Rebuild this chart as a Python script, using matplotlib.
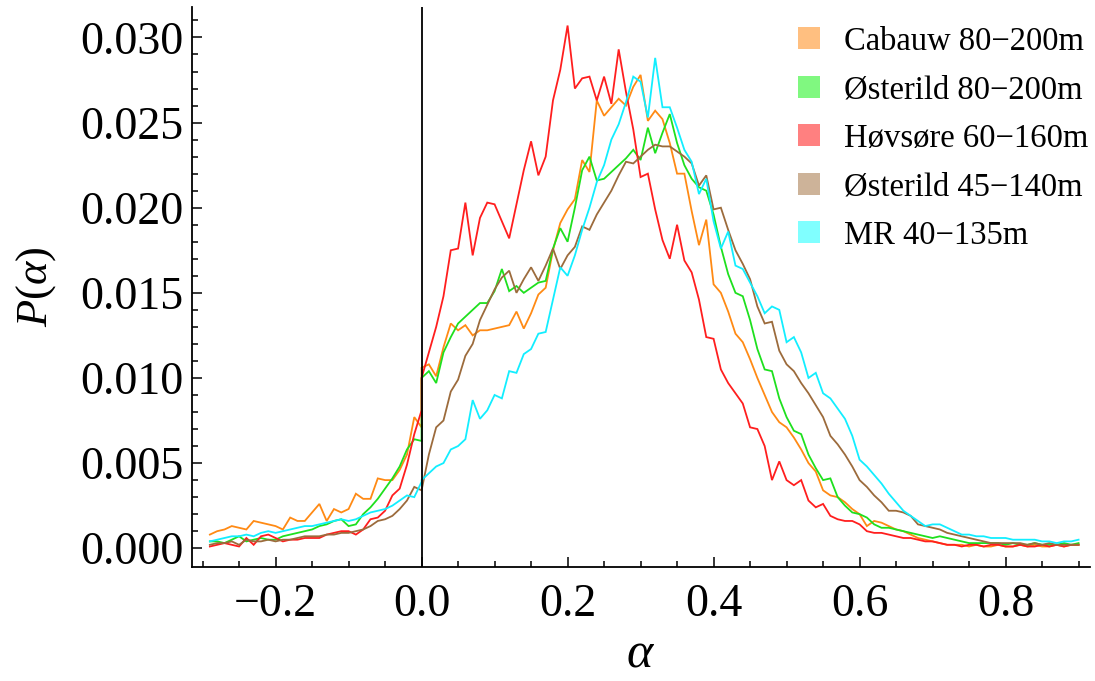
import numpy as np
import matplotlib
matplotlib.use("Agg")
import matplotlib.pyplot as plt
from matplotlib.lines import Line2D

# ---------------------------------------------------------------------------
# data: P(alpha) histograms, 0.01 bins; each series is split at alpha = 0
# ---------------------------------------------------------------------------
ALPHA_NEG = np.round(np.arange(-0.29, 0.001, 0.01), 2)   # -0.29 .. 0.00
ALPHA_POS = np.round(np.arange(0.0, 0.901, 0.01), 2)     #  0.00 .. 0.90

LABELS = ["Cabauw 80\u2212200m", "\u00d8sterild 80\u2212200m", "H\u00f8vs\u00f8re 60\u2212160m",
          "\u00d8sterild 45\u2212140m", "MR 40\u2212135m"]
LINE_COLORS = ["#FF8A14", "#1EE01E", "#FF1E1E", "#9C6B3C", "#12EEFF"]
SWATCH_COLORS = ["#FFBF80", "#80F880", "#FF8080", "#CDB399", "#80FFFF"]

cabauw_neg = [0.0008, 0.0010, 0.0011, 0.0013, 0.0012, 0.0011, 0.0016, 0.0015, 0.0014, 0.0013,
              0.0011, 0.0018, 0.0016, 0.0016, 0.0021, 0.0026, 0.0016, 0.0023, 0.0021, 0.0023,
              0.0032, 0.0029, 0.0029, 0.0041, 0.0040, 0.0040, 0.0046, 0.0055, 0.0077, 0.0071]
cabauw_pos = [0.0106, 0.0108, 0.0101, 0.0118, 0.0132, 0.0128, 0.0131, 0.0125, 0.0128, 0.0128,
              0.0129, 0.0130, 0.0131, 0.0139, 0.0129, 0.0138, 0.0149, 0.0153, 0.0175, 0.0191,
              0.0199, 0.0205, 0.0228, 0.0221, 0.0263, 0.0254, 0.0259, 0.0264, 0.0260, 0.0271,
              0.0278, 0.0251, 0.0257, 0.0252, 0.0238, 0.0220, 0.0220, 0.0198, 0.0178, 0.0193,
              0.0155, 0.0150, 0.0139, 0.0126, 0.0121, 0.0111, 0.0100, 0.0090, 0.0080, 0.0074,
              0.0071, 0.0065, 0.0058, 0.0050, 0.0045, 0.0034, 0.0031, 0.0030, 0.0027, 0.0023,
              0.0020, 0.0013, 0.0016, 0.0015, 0.0013, 0.0011, 0.0010, 0.0008, 0.0006, 0.0005,
              0.0004, 0.0003, 0.0002, 0.0002, 0.0002, 0.0001, 0.0002, 0.0001, 0.0001, 0.0002,
              0.0001, 0.0001, 0.0002, 0.0001, 0.0002, 0.0001, 0.0001, 0.0002, 0.0001, 0.0002, 0.0002]

oster80_neg = [0.0004, 0.0004, 0.0003, 0.0005, 0.0007, 0.0004, 0.0005, 0.0006, 0.0005, 0.0005,
               0.0007, 0.0008, 0.0009, 0.0010, 0.0011, 0.0013, 0.0014, 0.0016, 0.0017, 0.0013,
               0.0014, 0.0020, 0.0024, 0.0029, 0.0035, 0.0041, 0.0048, 0.0058, 0.0064, 0.0063]
oster80_pos = [0.0100, 0.0104, 0.0097, 0.0115, 0.0124, 0.0132, 0.0136, 0.0140, 0.0144, 0.0144,
               0.0151, 0.0164, 0.0151, 0.0154, 0.0150, 0.0153, 0.0156, 0.0157, 0.0176, 0.0188,
               0.0180, 0.0200, 0.0222, 0.0230, 0.0216, 0.0217, 0.0221, 0.0225, 0.0229, 0.0234,
               0.0228, 0.0247, 0.0232, 0.0244, 0.0255, 0.0238, 0.0225, 0.0217, 0.0212, 0.0210,
               0.0196, 0.0177, 0.0161, 0.0150, 0.0148, 0.0134, 0.0117, 0.0105, 0.0104, 0.0088,
               0.0077, 0.0069, 0.0067, 0.0055, 0.0047, 0.0040, 0.0041, 0.0030, 0.0025, 0.0021,
               0.0020, 0.0018, 0.0014, 0.0012, 0.0012, 0.0011, 0.0010, 0.0009, 0.0008, 0.0007,
               0.0006, 0.0007, 0.0006, 0.0005, 0.0004, 0.0003, 0.0003, 0.0003, 0.0003, 0.0003,
               0.0002, 0.0003, 0.0002, 0.0002, 0.0003, 0.0002, 0.0002, 0.0002, 0.0003, 0.0002, 0.0003]

hovsore_neg = [0.0001, 0.0002, 0.0003, 0.0002, 0.0001, 0.0006, 0.0002, 0.0007, 0.0008, 0.0006,
               0.0004, 0.0005, 0.0005, 0.0006, 0.0006, 0.0006, 0.0008, 0.0009, 0.0010, 0.0010,
               0.0008, 0.0011, 0.0017, 0.0018, 0.0022, 0.0031, 0.0035, 0.0049, 0.0067, 0.0081]
hovsore_pos = [0.0100, 0.0115, 0.0130, 0.0148, 0.0175, 0.0176, 0.0203, 0.0172, 0.0194, 0.0203,
               0.0202, 0.0192, 0.0182, 0.0202, 0.0222, 0.0239, 0.0219, 0.0230, 0.0263, 0.0281,
               0.0307, 0.0270, 0.0276, 0.0277, 0.0263, 0.0277, 0.0261, 0.0293, 0.0268, 0.0246,
               0.0218, 0.0220, 0.0199, 0.0181, 0.0170, 0.0190, 0.0169, 0.0162, 0.0146, 0.0124,
               0.0123, 0.0105, 0.0097, 0.0091, 0.0085, 0.0071, 0.0070, 0.0060, 0.0040, 0.0051,
               0.0040, 0.0037, 0.0040, 0.0028, 0.0024, 0.0026, 0.0019, 0.0017, 0.0016, 0.0016,
               0.0014, 0.0010, 0.0009, 0.0009, 0.0008, 0.0007, 0.0006, 0.0006, 0.0005, 0.0004,
               0.0004, 0.0003, 0.0002, 0.0002, 0.0001, 0.0002, 0.0002, 0.0001, 0.0002, 0.0002,
               0.0001, 0.0001, 0.0002, 0.0001, 0.0001, 0.0002, 0.0001, 0.0002, 0.0001, 0.0002, 0.0002]

oster45_neg = [0.0002, 0.0003, 0.0003, 0.0004, 0.0002, 0.0005, 0.0004, 0.0004, 0.0005, 0.0004,
               0.0005, 0.0005, 0.0006, 0.0007, 0.0007, 0.0007, 0.0008, 0.0008, 0.0009, 0.0009,
               0.0010, 0.0011, 0.0013, 0.0016, 0.0017, 0.0019, 0.0023, 0.0028, 0.0036, 0.0034]
oster45_pos = [0.0034, 0.0055, 0.0071, 0.0075, 0.0092, 0.0099, 0.0113, 0.0120, 0.0134, 0.0143,
               0.0152, 0.0159, 0.0163, 0.0150, 0.0158, 0.0165, 0.0157, 0.0166, 0.0176, 0.0164,
               0.0172, 0.0177, 0.0189, 0.0187, 0.0196, 0.0203, 0.0210, 0.0219, 0.0227, 0.0226,
               0.0230, 0.0234, 0.0237, 0.0236, 0.0236, 0.0233, 0.0230, 0.0226, 0.0213, 0.0219,
               0.0199, 0.0200, 0.0187, 0.0175, 0.0167, 0.0158, 0.0142, 0.0132, 0.0133, 0.0116,
               0.0108, 0.0104, 0.0097, 0.0091, 0.0084, 0.0077, 0.0066, 0.0061, 0.0055, 0.0048,
               0.0040, 0.0036, 0.0031, 0.0027, 0.0022, 0.0022, 0.0021, 0.0019, 0.0014, 0.0013,
               0.0012, 0.0011, 0.0009, 0.0008, 0.0007, 0.0006, 0.0005, 0.0004, 0.0003, 0.0003,
               0.0003, 0.0003, 0.0003, 0.0002, 0.0003, 0.0002, 0.0003, 0.0002, 0.0002, 0.0002, 0.0002]

mr_neg = [0.0004, 0.0005, 0.0006, 0.0007, 0.0007, 0.0008, 0.0007, 0.0009, 0.0010, 0.0009,
          0.0010, 0.0011, 0.0012, 0.0013, 0.0013, 0.0014, 0.0015, 0.0016, 0.0017, 0.0016,
          0.0017, 0.0019, 0.0021, 0.0022, 0.0023, 0.0025, 0.0028, 0.0031, 0.0030, 0.0039]
mr_pos = [0.0040, 0.0044, 0.0048, 0.0050, 0.0058, 0.0060, 0.0064, 0.0087, 0.0076, 0.0081,
          0.0090, 0.0088, 0.0104, 0.0103, 0.0114, 0.0117, 0.0126, 0.0127, 0.0146, 0.0165,
          0.0160, 0.0172, 0.0187, 0.0200, 0.0215, 0.0225, 0.0240, 0.0249, 0.0262, 0.0277,
          0.0274, 0.0253, 0.0288, 0.0259, 0.0259, 0.0247, 0.0234, 0.0227, 0.0208, 0.0217,
          0.0192, 0.0176, 0.0186, 0.0166, 0.0164, 0.0156, 0.0148, 0.0138, 0.0142, 0.0140,
          0.0121, 0.0124, 0.0115, 0.0100, 0.0103, 0.0091, 0.0088, 0.0082, 0.0076, 0.0066,
          0.0052, 0.0048, 0.0043, 0.0038, 0.0032, 0.0027, 0.0022, 0.0019, 0.0016, 0.0013,
          0.0014, 0.0014, 0.0012, 0.0010, 0.0008, 0.0008, 0.0007, 0.0007, 0.0006, 0.0006,
          0.0006, 0.0005, 0.0005, 0.0005, 0.0005, 0.0004, 0.0004, 0.0003, 0.0004, 0.0004, 0.0005]

SERIES = [(cabauw_neg, cabauw_pos), (oster80_neg, oster80_pos), (hovsore_neg, hovsore_pos),
          (oster45_neg, oster45_pos), (mr_neg, mr_pos)]

# ---------------------------------------------------------------------------
plt.rcParams["font.family"] = ["Liberation Serif", "DejaVu Serif"]
plt.rcParams["mathtext.fontset"] = "custom"
plt.rcParams["mathtext.it"] = "Liberation Serif:italic"
plt.rcParams["mathtext.rm"] = "Liberation Serif"

fig = plt.figure(figsize=(10.95, 6.81), dpi=100)
ax = fig.add_axes([0.175, 0.168, 0.82, 0.822])

x_all = np.concatenate([ALPHA_NEG, ALPHA_POS])
for (neg, pos), col in zip(SERIES, LINE_COLORS):
    ax.plot(x_all, np.concatenate([neg, pos]), color=col, lw=1.3, solid_joinstyle="miter")

ax.axvline(0, color="black", lw=1.3, zorder=5)

ax.set_xlim(-0.315, 0.915)
ax.set_ylim(-0.00108, 0.0318)

for s in ["top", "right"]:
    ax.spines[s].set_visible(False)
for s in ["left", "bottom"]:
    ax.spines[s].set_linewidth(1.3)

ax.set_xticks([-0.2, 0.0, 0.2, 0.4, 0.6, 0.8])
ax.set_xticklabels(["\u22120.2", "0.0", "0.2", "0.4", "0.6", "0.8"])
ax.set_xticks(np.round(np.arange(-0.3, 0.91, 0.05), 2), minor=True)
ax.set_yticks(np.round(np.arange(0, 0.0301, 0.005), 3))
ax.set_yticklabels([f"{v:.3f}" for v in np.arange(0, 0.0301, 0.005)])
ax.set_yticks(np.round(np.arange(0, 0.0315, 0.001), 3), minor=True)

ax.tick_params(which="both", direction="in", width=1.1, labelsize=33)
ax.tick_params(which="major", length=7.5)
ax.tick_params(which="minor", length=4.5)
ax.tick_params(axis="x", which="major", pad=12)
ax.tick_params(axis="y", which="major", pad=6)

ax.set_ylabel(r"$P(\alpha)$", fontsize=32, labelpad=16)
ax.set_xlabel(r"$\alpha$", fontsize=36, labelpad=4)

handles = [Line2D([], [], ls="", marker="s", markersize=16, color=c, markeredgewidth=0)
           for c in SWATCH_COLORS]
ax.legend(handles, LABELS, loc="upper right", bbox_to_anchor=(1.02, 1.0),
          frameon=False, fontsize=23.5, handlelength=0.8, handletextpad=0.65,
          labelspacing=0.55, borderaxespad=0.2)

fig.savefig("out.png", dpi=100)
